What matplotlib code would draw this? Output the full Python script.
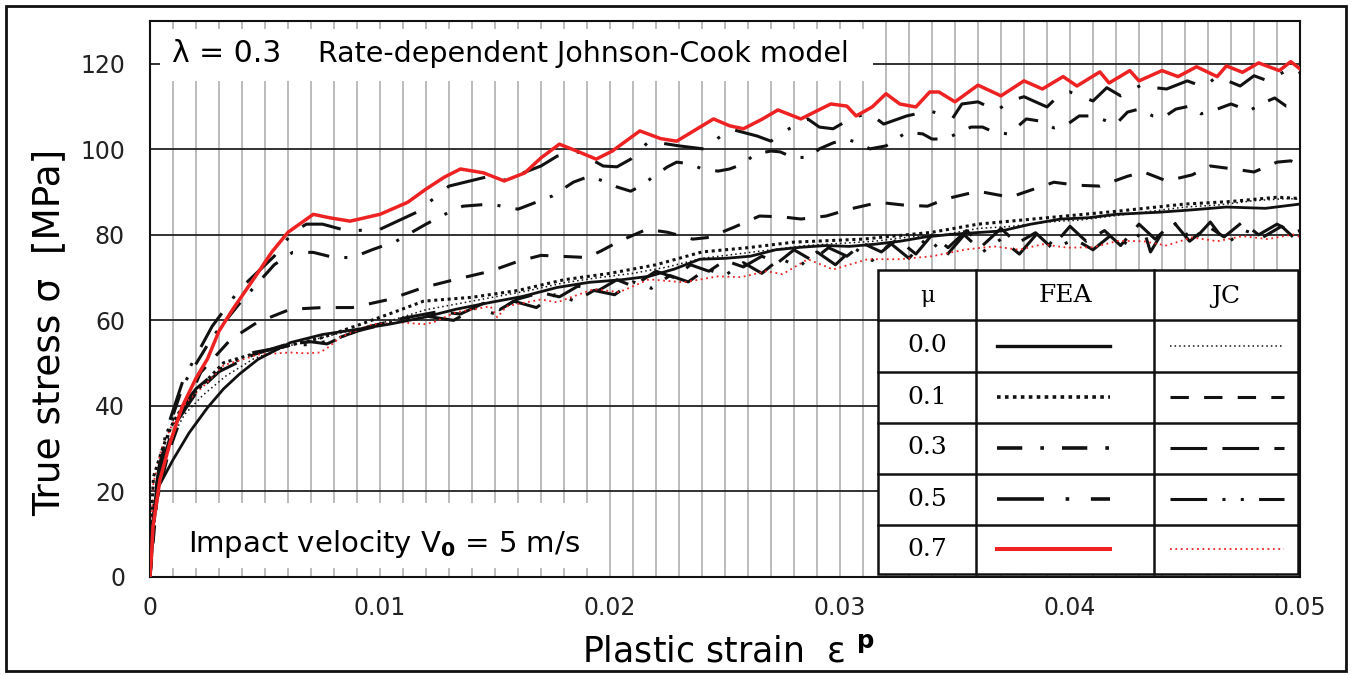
import matplotlib
matplotlib.use("Agg")
import matplotlib.pyplot as plt
from matplotlib.patches import Rectangle
from matplotlib.lines import Line2D

# ---------------- data ----------------
fea00_x = [0, 0.0001, 0.0003, 0.001, 0.0017, 0.0025, 0.0032, 0.0039, 0.0047, 0.0061, 0.0075, 0.009, 0.0104, 0.0119, 0.0133,
           0.0148, 0.0162, 0.0177, 0.0191, 0.0205, 0.0217, 0.0228, 0.0239, 0.025, 0.0261, 0.0272, 0.0283, 0.0294, 0.0304,
           0.0315, 0.0326, 0.0337, 0.0348, 0.0359, 0.037, 0.0383, 0.0396, 0.0408, 0.042, 0.0439, 0.0452, 0.0468, 0.0485, 0.05]
fea00_y = [0, 11, 20.4, 27.4, 33.7, 39.6, 44, 47.5, 50.9, 54.8, 56.7, 57.9, 59.1, 60.7, 62.6, 64.2, 65.6, 67.7, 68.9, 69.5,
           70.3, 72, 74.3, 74.5, 75, 76.5, 77.1, 77.5, 77.3, 77.8, 78.5, 79.5, 80.1, 80.5, 80.9, 82.5, 83.7, 84, 84.8, 85.3,
           85.8, 86.5, 86.2, 87.2]

fea01_x = [0, 0.00005, 0.00015, 0.00057, 0.001, 0.0016, 0.0022, 0.0032, 0.0047, 0.0061, 0.0075, 0.009, 0.0104, 0.0119,
           0.014, 0.016, 0.018, 0.02, 0.022, 0.024, 0.026, 0.028, 0.031, 0.034, 0.036, 0.039, 0.042, 0.045, 0.047, 0.049, 0.05]
fea01_y = [0, 12, 23.4, 30.5, 36.1, 41.5, 44.5, 50.1, 52.5, 54.2, 56, 58.8, 61.5, 64.5, 65.4, 67, 69.5, 71, 73, 76, 77,
           78.3, 79, 80.6, 82.5, 84, 85.5, 87.2, 87.8, 88.8, 88.5]

fea03_x = [0, 0.0003, 0.0007, 0.00145, 0.0027, 0.0039, 0.0054, 0.0062, 0.0071, 0.008, 0.0088, 0.0097, 0.0107, 0.012, 0.013,
           0.0136, 0.0148, 0.016, 0.0175, 0.0184, 0.0191, 0.0197, 0.0203, 0.0209, 0.0214, 0.0219, 0.0225, 0.0229, 0.0235,
           0.024, 0.0247, 0.0252, 0.0258, 0.0263, 0.027, 0.0274, 0.028, 0.0287, 0.0291, 0.0297, 0.0303, 0.0309, 0.0313,
           0.032, 0.0323, 0.0329, 0.0336, 0.034, 0.0346, 0.0352, 0.0357, 0.0362, 0.0367, 0.0373, 0.0377, 0.0381, 0.0387,
           0.0393, 0.0399, 0.0404, 0.041, 0.0416, 0.042, 0.0425, 0.043, 0.0436, 0.0441, 0.0446, 0.0452, 0.0457, 0.0462,
           0.047, 0.0478, 0.0483, 0.0489, 0.0494, 0.05]
fea03_y = [0, 21, 33, 45, 56, 64, 73, 75.9, 75.9, 74.7, 74.7, 76.6, 78.5, 82.5, 85.3, 86.7, 87.2, 86, 89.1, 92.3, 93.7,
           92.6, 91.2, 90.2, 91.6, 93.7, 95.9, 97, 96.6, 95.4, 94.9, 95.4, 96.6, 98.9, 99.6, 99.4, 98, 98.2, 100.1, 101.5,
           102.4, 101.2, 100.1, 100.8, 101.9, 104, 103.6, 102.4, 102.4, 104, 105.2, 105.2, 104, 103.6, 105.2, 107.1, 106.6,
           105, 105.9, 107.8, 107.8, 106.6, 105.9, 108.7, 109.4, 107.8, 107.6, 109.4, 110.1, 108.3, 109, 110.6, 109, 110.6,
           112, 110.1, 110.1]

fea05_x = [0, 0.0003, 0.0007, 0.00145, 0.0027, 0.0039, 0.0054, 0.0062, 0.0068, 0.0075, 0.0086, 0.01, 0.0116, 0.013, 0.0146,
           0.0153, 0.017, 0.0177, 0.0186, 0.0197, 0.0203, 0.0209, 0.0217, 0.023, 0.0242, 0.0247, 0.0252, 0.0264, 0.027,
           0.0275, 0.0286, 0.0291, 0.0297, 0.0306, 0.0313, 0.0319, 0.0329, 0.0339, 0.0349, 0.0353, 0.036, 0.0368, 0.0374,
           0.038, 0.039, 0.0395, 0.04, 0.041, 0.0416, 0.0422, 0.0432, 0.0437, 0.0442, 0.0451, 0.0458, 0.0464, 0.0474, 0.048,
           0.0486, 0.0493, 0.0499, 0.05]
fea05_y = [0, 22, 34, 46.2, 58.6, 67.3, 75, 80.6, 82.5, 82.5, 80.9, 81.3, 85.3, 91.4, 93.5, 92.6, 96.1, 98.4, 99.4, 96.1,
           95.9, 97.7, 101.9, 100.8, 100, 102.6, 104.8, 103.1, 101.9, 104, 107.1, 105.2, 104.8, 107.6, 108.3, 105.9, 107.8,
           109, 107.3, 110.6, 111.1, 109, 111.3, 112.3, 109.9, 112.5, 113.4, 111.3, 114.4, 112.5, 115.3, 114.4, 114.1, 116,
           114.6, 117, 114.8, 117.2, 116, 118.1, 117, 118]

fea07_x = [0, 0.00007, 0.00013, 0.00043, 0.00087, 0.0014, 0.002, 0.0025, 0.003, 0.0036, 0.0047, 0.0053, 0.006, 0.0071,
           0.0078, 0.0087, 0.01, 0.0112, 0.012, 0.0128, 0.0135, 0.0145, 0.0154, 0.0163, 0.017, 0.0178, 0.0186, 0.0194,
           0.0201, 0.0213, 0.0222, 0.0229, 0.0237, 0.0245, 0.0252, 0.0258, 0.0266, 0.0273, 0.0283, 0.029, 0.0296, 0.0303,
           0.0307, 0.0314, 0.032, 0.0326, 0.0333, 0.0339, 0.0343, 0.035, 0.036, 0.037, 0.038, 0.0388, 0.0397, 0.0403,
           0.0413, 0.0417, 0.0426, 0.043, 0.044, 0.0447, 0.0455, 0.0464, 0.0468, 0.0475, 0.0482, 0.0491, 0.0496, 0.05]
fea07_y = [0, 5.6, 11.7, 22.7, 31.4, 39.8, 46.5, 51, 57.5, 62.6, 71.2, 76, 80.6, 84.8, 84.0, 83.2, 84.8, 87.6, 90.7, 93.5,
           95.4, 94.5, 92.6, 94.5, 98, 101.2, 99.5, 97.7, 99.6, 104.3, 102.5, 101.9, 104.5, 107.1, 105.5, 104.8, 107, 109.2,
           107.1, 109, 110.6, 110.1, 107.8, 109.9, 113, 110.6, 109.9, 113.4, 113.4, 111.1, 115, 112.5, 116, 114.1, 117,
           114.8, 118.1, 115.5, 118.4, 116, 118.4, 117, 119.3, 117, 119.5, 118, 120.2, 118.4, 120.5, 118.8]

jc00_x = [0, 0.0001, 0.0004, 0.0009, 0.0015, 0.0023, 0.0033, 0.0045, 0.006, 0.0075, 0.009, 0.0105, 0.012, 0.0135, 0.015,
          0.0165, 0.018, 0.0195, 0.021, 0.0225, 0.024, 0.0255, 0.027, 0.0285, 0.03, 0.0315, 0.033, 0.0345, 0.036, 0.0375,
          0.039, 0.0405, 0.042, 0.0435, 0.045, 0.0465, 0.048, 0.0495, 0.05]
jc00_y = [0, 14, 25, 32, 38, 42.5, 47, 51, 54, 56, 58, 60, 62.5, 64, 65.5, 67, 68.8, 70, 71, 72.5, 74.5, 75.5, 76.5, 77.5,
          78, 78.5, 79.5, 80, 81.5, 82, 83, 83.5, 84.5, 85.5, 86.5, 87, 88, 88.5, 88.3]

jc01_x = [0, 0.0003, 0.0008, 0.0014, 0.0022, 0.0035, 0.00465, 0.0061, 0.0075, 0.0088, 0.0104, 0.0119, 0.0133, 0.0148, 0.016,
          0.017, 0.0178, 0.019, 0.0196, 0.0204, 0.0216, 0.0225, 0.0236, 0.0243, 0.0254, 0.0265, 0.0275, 0.0283, 0.0294,
          0.0304, 0.0317, 0.0327, 0.0338, 0.0346, 0.036, 0.0374, 0.0393, 0.0403, 0.0413, 0.0425, 0.0432, 0.0442, 0.0453,
          0.0461, 0.0471, 0.048, 0.049, 0.0496, 0.05]
jc01_y = [0, 18, 29, 38, 47.8, 55.5, 59.5, 62.6, 63, 63, 64.9, 67.7, 69.6, 71.5, 73.8, 75.2, 75, 74.7, 76.2, 78.5, 81.3,
          80.6, 79, 79.4, 81.8, 84.4, 84.2, 83.7, 84.4, 86, 87.6, 87, 86.7, 88.4, 90.2, 88.8, 92.3, 91.6, 91.4, 93.7, 94.7,
          92.6, 94, 96.1, 95.4, 94.7, 97, 97.3, 96.3]

jc03_x = [0, 0.0001, 0.0004, 0.001, 0.002, 0.003, 0.0045, 0.006, 0.007, 0.0077, 0.0085, 0.0095, 0.011, 0.0125, 0.0135,
          0.0145, 0.0152, 0.016, 0.017, 0.0178, 0.0186, 0.0195, 0.0203, 0.021, 0.022, 0.0228, 0.0235, 0.0243, 0.025, 0.0258,
          0.0266, 0.0273, 0.028, 0.0288, 0.0295, 0.0303, 0.031, 0.0318, 0.0325, 0.0333, 0.034, 0.0347, 0.0355, 0.0362,
          0.037, 0.0377, 0.0385, 0.0392, 0.04, 0.0407, 0.0415, 0.0422, 0.043, 0.0437, 0.0445, 0.0452, 0.046, 0.0467, 0.0475,
          0.0482, 0.049, 0.0497, 0.05]
jc03_y = [0, 12, 24, 35, 43, 48, 52, 54.5, 55, 54.5, 56.5, 58.5, 60.5, 62, 61.5, 64, 62.5, 65, 66.5, 65.5, 68, 67, 69.5, 68,
          71.5, 70, 73, 71.5, 74, 72.5, 75, 73.5, 76.5, 74, 77, 75, 78, 76, 79, 75.5, 80, 77, 81, 77.5, 81.5, 78, 80.5, 77,
          82, 78.5, 81, 77.5, 82.5, 79, 83, 78.5, 82, 79.5, 83, 80, 82.5, 80.5, 81]

jc05_x = [0, 0.0001, 0.0004, 0.001, 0.002, 0.003, 0.0045, 0.006, 0.0072, 0.008, 0.009, 0.0105, 0.012, 0.0132, 0.0142, 0.015,
          0.0158, 0.0168, 0.0176, 0.0185, 0.0193, 0.0202, 0.021, 0.0218, 0.0226, 0.0234, 0.0242, 0.025, 0.0258, 0.0266,
          0.0274, 0.0282, 0.029, 0.0298, 0.0306, 0.0314, 0.0322, 0.033, 0.0338, 0.0346, 0.0354, 0.0362, 0.037, 0.0378,
          0.0386, 0.0394, 0.0402, 0.041, 0.0418, 0.0426, 0.0432, 0.0435, 0.044, 0.0447, 0.0453, 0.0461, 0.0468, 0.0476,
          0.0484, 0.0492, 0.05]
jc05_y = [0, 14, 26, 37, 44, 48.5, 52.5, 54, 54.5, 55.5, 57.5, 59.5, 61, 60, 63, 61.5, 64.5, 63, 66, 64.5, 67, 66, 69, 67.5,
          70.5, 69, 72, 70.5, 73.5, 71, 74.5, 72.5, 76, 73, 77, 74, 78, 74.5, 79.5, 75, 80, 76, 79, 75.5, 80.5, 77, 79, 76.5,
          80, 77.5, 81.3, 76, 80.5, 83, 78.3, 83, 78, 81, 79.5, 82, 78]

jc07_x = [0, 0.00005, 0.00015, 0.0005, 0.001, 0.0016, 0.0024, 0.0032, 0.0047, 0.0061, 0.0068, 0.0074, 0.0078, 0.0083,
          0.0097, 0.011, 0.0119, 0.0123, 0.0133, 0.0148, 0.0151, 0.0155, 0.017, 0.0177, 0.0184, 0.0193, 0.0204, 0.0217,
          0.0232, 0.0247, 0.0257, 0.0268, 0.0275, 0.0286, 0.0297, 0.0312, 0.0326, 0.034, 0.0355, 0.0367, 0.0378, 0.0388,
          0.0399, 0.041, 0.0421, 0.0432, 0.0442, 0.0453, 0.0464, 0.0475, 0.0486, 0.0497, 0.05]
jc07_y = [0, 11, 22, 30, 36, 41, 45, 49.5, 52, 52.5, 52.3, 52.5, 53.9, 56.2, 59.1, 59.5, 59.1, 59.5, 61.9, 63.3, 60.7, 63.3,
          64.9, 64.2, 65.6, 67.3, 66.6, 69.6, 68.9, 70.3, 70.1, 71.5, 70.8, 74.3, 71.9, 74.3, 74.3, 75, 76.6, 77.3, 76.5,
          77.8, 77, 77.1, 78.6, 78.5, 77.5, 79.4, 78.5, 79.7, 79, 80.1, 79.5]

mu_labels = ["0.0", "0.1", "0.3", "0.5", "0.7"]
x_ticks = [0, 0.01, 0.02, 0.03, 0.04, 0.05]
x_tick_labels = ["0", "0.01", "0.02", "0.03", "0.04", "0.05"]
y_ticks = [0, 20, 40, 60, 80, 100, 120]

# ---------------- styles ----------------
BLK = "#111111"
RED = "#ee2222"
fea_styles = [
    dict(color=BLK, lw=2.0, ls="-"),
    dict(color=BLK, lw=2.2, ls=(0, (1, 1.2))),
    dict(color=BLK, lw=2.2, ls=(0, (7, 5, 1, 5))),
    dict(color=BLK, lw=2.2, ls=(0, (13, 6, 1, 6))),
    dict(color=RED, lw=2.5, ls="-"),
]
jc_styles = [
    dict(color=BLK, lw=1.1, ls=(0, (1, 2))),
    dict(color=BLK, lw=2.2, ls=(0, (6, 5))),
    dict(color=BLK, lw=2.2, ls=(0, (12, 5))),
    dict(color=BLK, lw=2.2, ls=(0, (12, 5, 1, 5, 1, 5))),
    dict(color=RED, lw=1.3, ls=(0, (1, 2))),
]
fea_data = [(fea00_x, fea00_y), (fea01_x, fea01_y), (fea03_x, fea03_y), (fea05_x, fea05_y), (fea07_x, fea07_y)]
jc_data = [(jc00_x, jc00_y), (jc01_x, jc01_y), (jc03_x, jc03_y), (jc05_x, jc05_y), (jc07_x, jc07_y)]

plt.rcParams["font.family"] = ["DejaVu Sans"]

W, H = 1352, 675
fig = plt.figure(figsize=(W / 100, H / 100), dpi=100)
ax = fig.add_axes([150 / W, 1 - 577 / H, 1150 / W, 556 / H])

ax.set_xlim(0, 0.05)
ax.set_ylim(0, 130)

# grid
for k in range(1, 50):
    ax.axvline(k * 0.001, color="#b0b0b0", lw=1.2, zorder=0.5)
for yv in y_ticks[1:]:
    ax.axhline(yv, color="#222222", lw=1.3, zorder=0.6)

# white boxes behind annotations
ax.add_patch(Rectangle((0.00043, 116), 0.03100, 12.2, facecolor="white", edgecolor="none", zorder=1))
ax.add_patch(Rectangle((0.0004, 2.1), 0.0195, 15.2, facecolor="white", edgecolor="none", zorder=1))

# curves (JC first so FEA on top)
for (xs, ys), st in zip(jc_data, jc_styles):
    ax.plot(xs, ys, color=st["color"], lw=st["lw"], linestyle=st["ls"], zorder=2)
for (xs, ys), st in zip(fea_data, fea_styles):
    ax.plot(xs, ys, color=st["color"], lw=st["lw"], linestyle=st["ls"], zorder=3)

ax.set_xticks(x_ticks)
ax.set_xticklabels(x_tick_labels)
ax.set_yticks(y_ticks)
ax.tick_params(length=0, labelsize=17, pad=14, colors="#222222")
ax.tick_params(axis="y", pad=18)
for sp in ax.spines.values():
    sp.set_linewidth(1.5)
    sp.set_color("#111111")

ax.set_ylabel("True stress σ  [MPa]", fontsize=27)
ax.yaxis.set_label_coords(-0.072, 0.44)
ax.set_xlabel("Plastic strain  ε $^{\\mathbf{p}}$", fontsize=25)
ax.xaxis.set_label_coords(0.503, -0.103)

# annotations
ax.text(0.00095, 122.3, "λ = 0.3", fontsize=21.5, va="center", ha="left", zorder=4)
ax.text(0.0073, 122.3, "Rate-dependent Johnson-Cook model", fontsize=20.5, va="center", ha="left", zorder=4)
ax.text(0.00165, 7.8, "Impact velocity V$_{\\mathbf{0}}$ = 5 m/s", fontsize=21, va="center", ha="left", zorder=4)

# legend table (axes coordinates)
def px2ax(px, py):
    return (px - 150) / 1150, (577 - py) / 556

tx0, ty0 = px2ax(878, 574)
tx1, ty1 = px2ax(1298, 270)
ax.add_patch(Rectangle((tx0, ty0), tx1 - tx0, ty1 - ty0, transform=ax.transAxes,
                       facecolor="white", edgecolor="#111111", lw=1.8, zorder=5))
for cx in [976, 1154]:
    a, _ = px2ax(cx, 0)
    ax.add_line(Line2D([a, a], [ty0, ty1], transform=ax.transAxes, color="#111111", lw=1.8, zorder=6))
row_edges = [320, 372, 423, 474, 525]
for ry in row_edges:
    _, b = px2ax(0, ry)
    ax.add_line(Line2D([tx0, tx1], [b, b], transform=ax.transAxes, color="#111111", lw=1.8, zorder=6))

serif = ["DejaVu Serif"]
hx, hy = px2ax(927, 296)
ax.text(hx, hy, "μ", transform=ax.transAxes, fontsize=16, ha="center", va="center", family=serif, zorder=7)
hx, _ = px2ax(1065, 0)
ax.text(hx, hy, "FEA", transform=ax.transAxes, fontsize=18, ha="center", va="center", family=serif, zorder=7)
hx, _ = px2ax(1226, 0)
ax.text(hx, hy, "JC", transform=ax.transAxes, fontsize=18, ha="center", va="center", family=serif, zorder=7)

row_centers = [346, 397, 448, 499, 549]
fa0, _ = px2ax(997, 0)
fa1, _ = px2ax(1110, 0)
ja0, _ = px2ax(1170, 0)
ja1, _ = px2ax(1284, 0)
for lab, rc, fs, js in zip(mu_labels, row_centers, fea_styles, jc_styles):
    mx, my = px2ax(927, rc)
    ax.text(mx, my, lab, transform=ax.transAxes, fontsize=18, ha="center", va="center", family=serif, zorder=7)
    ax.add_line(Line2D([fa0, fa1], [my, my], transform=ax.transAxes, color=fs["color"], lw=fs["lw"] + 0.4,
                       linestyle=fs["ls"], zorder=7))
    ax.add_line(Line2D([ja0, ja1], [my, my], transform=ax.transAxes, color=js["color"], lw=js["lw"],
                       linestyle=js["ls"], zorder=7))

# outer frame
fig.add_artist(Rectangle((6 / W, 4 / H), 1340 / W, 665 / H, transform=fig.transFigure,
                         facecolor="none", edgecolor="#111111", lw=2))

fig.savefig("out.png", dpi=100)
